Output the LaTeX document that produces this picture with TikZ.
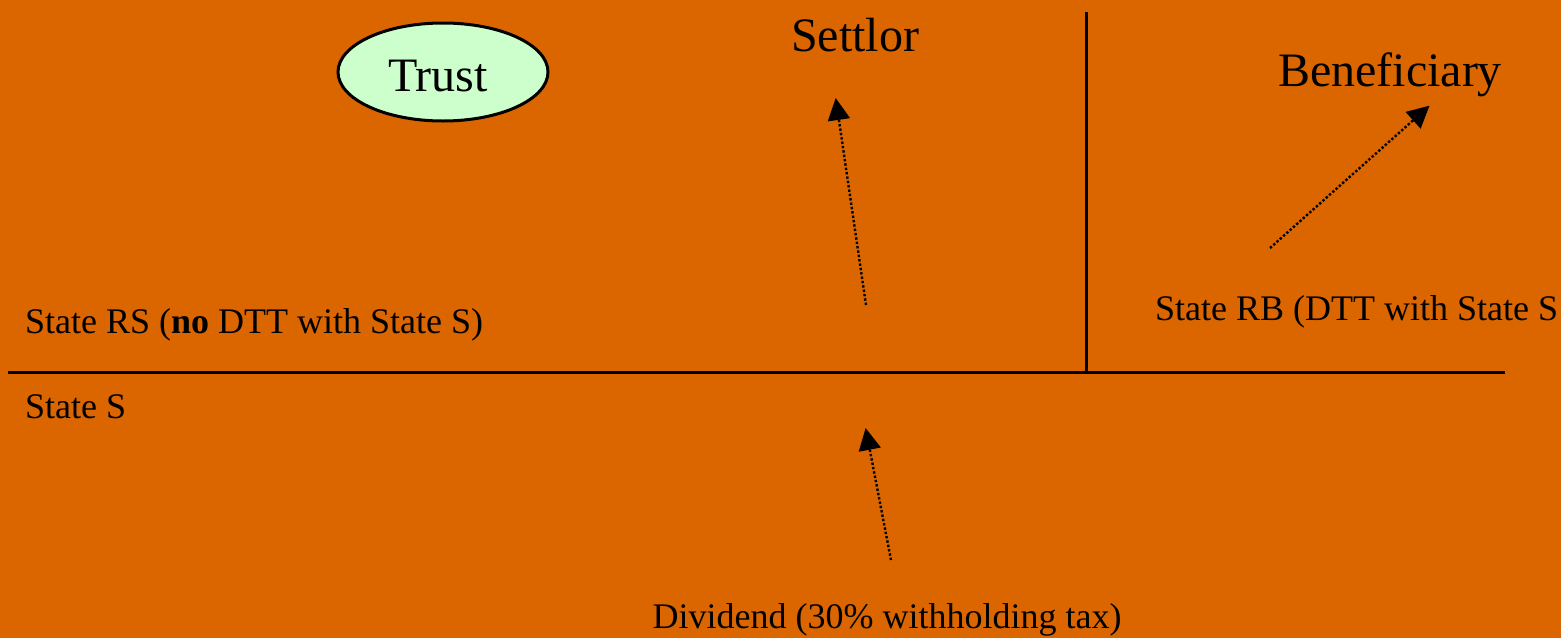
\documentclass[tikz,border=0pt]{standalone}
\usepackage{fontspec}
\setmainfont{Liberation Serif}
\usetikzlibrary{arrows.meta,shapes.geometric}
\definecolor{bgorange}{RGB}{219,102,0}
\definecolor{trustgreen}{RGB}{204,255,204}
\tikzset{
  bigtext/.style={font=\fontsize{48}{52}\selectfont, inner sep=0pt},
  smalltext/.style={font=\fontsize{36}{40}\selectfont, inner sep=0pt},
  border/.style={line width=3pt, black},
  flow/.style={dotted, line width=2.4pt, -{Triangle[length=22pt,width=22pt]}, shorten >=-2pt}
}
\begin{document}
\begin{tikzpicture}[x=1pt,y=-1pt]
\fill[bgorange] (0,0) rectangle (1561,638);
\useasboundingbox (0,0) rectangle (1561,638);
\node[ellipse, draw, line width=3pt, fill=trustgreen, minimum width=210pt, minimum height=98pt, inner sep=0pt] (trust) at (443,72) {};
\node[bigtext] (trustlbl) at (438,76) {Trust};
\node[bigtext] (settlor) at (855,35) {Settlor};
\node[bigtext] (benef) at (1390,75) {Beneficiary};
\coordinate (vtop) at (1086,12);
\coordinate (vbot) at (1086,372);
\coordinate (hl) at (8,372);
\coordinate (hr) at (1505,372);
\draw[border] (vtop) -- (vbot);
\draw[border] (hl) -- (hr);
\node[smalltext, anchor=base west] (rs) at (25,333) {State RS (\textbf{no} DTT with State S)};
\node[smalltext, anchor=base west] (rb) at (1155,320) {State RB (DTT with State S};
\node[smalltext, anchor=base west] (s) at (25,418) {State S};
\node[smalltext, anchor=base] (div) at (887,628) {Dividend (30\% withholding tax)};
\coordinate (a1s) at (866,305);
\coordinate (a1e) at (836,100);
\coordinate (a2s) at (1270,248);
\coordinate (a2e) at (1428,107);
\coordinate (a3s) at (891,560);
\coordinate (a3e) at (866,430);
\draw[flow] (a1s) -- (a1e);
\draw[flow] (a2s) -- (a2e);
\draw[flow] (a3s) -- (a3e);
\end{tikzpicture}
\end{document}
